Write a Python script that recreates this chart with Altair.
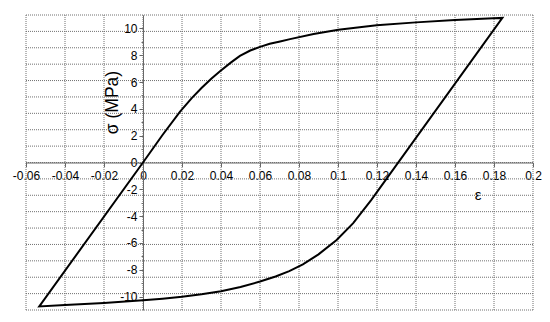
import altair as alt
import pandas as pd

# Hysteresis loop (strain eps, stress sigma in MPa), in drawing order
eps = [0.0, 0.01, 0.019, 0.025, 0.03, 0.035, 0.0395, 0.045, 0.0497, 0.055, 0.06, 0.065,
       0.0703, 0.0754, 0.0875, 0.1002, 0.1198, 0.14, 0.16, 0.1797, 0.1843,
       0.117, 0.1078, 0.0993, 0.09, 0.082, 0.075, 0.068, 0.06, 0.05, 0.04, 0.03,
       0.02, 0.01, 0.0, -0.02, -0.04, -0.0532,
       0.0]
sig = [0.0, 2.05, 3.8, 4.8, 5.55, 6.25, 6.8, 7.45, 7.95, 8.35, 8.62, 8.85,
       9.03, 9.2, 9.58, 9.9, 10.23, 10.45, 10.62, 10.75, 10.78,
       -2.8, -4.52, -5.78, -6.85, -7.6, -8.1, -8.5, -8.88, -9.28, -9.6, -9.83,
       -10.02, -10.16, -10.28, -10.48, -10.62, -10.73,
       0.0]

x_ticks = [-0.06, -0.04, -0.02, 0.0, 0.02, 0.04, 0.06, 0.08, 0.1, 0.12, 0.14, 0.16, 0.18, 0.2]
y_ticks = list(range(-10, 11))
x_grid = x_ticks
y_grid = [round(i * 11 / 9, 4) for i in range(-9, 10)]

X_DOMAIN = [-0.06, 0.2]
Y_DOMAIN = [-11, 11]
W, H = 507, 295

df = pd.DataFrame({"eps": eps, "sig": sig, "order": list(range(len(eps)))})
gx = pd.DataFrame({"eps": x_grid})
gy = pd.DataFrame({"sig": y_grid})

xs = alt.Scale(domain=X_DOMAIN, nice=False, zero=False)
ys = alt.Scale(domain=Y_DOMAIN, nice=False, zero=False)

x_off = -(H / 2)
y_off = -(W * (0 - X_DOMAIN[0]) / (X_DOMAIN[1] - X_DOMAIN[0]))

MINUS = "\u2212"

x_axis = alt.Axis(
    orient="bottom", offset=x_off, values=x_ticks, grid=False,
    labelExpr=f"replace(format(datum.value, '.2~f'), '{MINUS}', '-')",
    labelFont="Liberation Sans", labelFontSize=12, labelColor="black",
    labelPadding=4, tickSize=4, tickColor="#666", domainColor="#666",
    labelFlush=False, labelOverlap=False,
    title="ε", titleFont="Liberation Sans", titleFontSize=15,
    titleFontWeight="normal", titleX=451.5, titleY=31.5,
    titleAlign="center", titleBaseline="middle", titleColor="black",
)
y_axis = alt.Axis(
    orient="left", offset=y_off, values=y_ticks, grid=False,
    labelExpr=f"datum.value % 2 == 0 ? replace(format(datum.value, 'd'), '{MINUS}', '-') : ''",
    labelFont="Liberation Sans", labelFontSize=12, labelColor="black",
    labelPadding=2,
    tickSize={"condition": {"test": "datum.value % 2 != 0", "value": 2}, "value": 4},
    tickColor="#666", domainColor="#666",
    labelFlush=False, labelOverlap=False,
    title="σ (MPa)", titleFont="Liberation Sans", titleFontSize=17.5,
    titleFontWeight="normal", titleAngle=270, titleX=-30.5, titleY=87,
    titleAlign="center", titleBaseline="middle", titleColor="black",
)

grid_style = dict(color="#707070", strokeDash=[1, 1], strokeWidth=1)

vgrid = alt.Chart(gx).mark_rule(**grid_style).encode(
    x=alt.X("eps:Q", scale=xs, axis=x_axis)
)
hgrid = alt.Chart(gy).mark_rule(**grid_style).encode(
    y=alt.Y("sig:Q", scale=ys, axis=y_axis)
)

line = alt.Chart(df).mark_line(color="black", strokeWidth=2).encode(
    x=alt.X("eps:Q", scale=xs, axis=x_axis),
    y=alt.Y("sig:Q", scale=ys, axis=y_axis),
    order="order:Q",
)

chart = alt.layer(vgrid, hgrid, line).properties(
    width=W, height=H,
    padding={"left": 18, "top": 7, "right": 9, "bottom": 4},
    autosize=alt.AutoSizeParams(type="none"),
    background="white",
).configure_view(stroke=None)

chart.save("out.html", embed_options={"renderer": "svg", "actions": False})
